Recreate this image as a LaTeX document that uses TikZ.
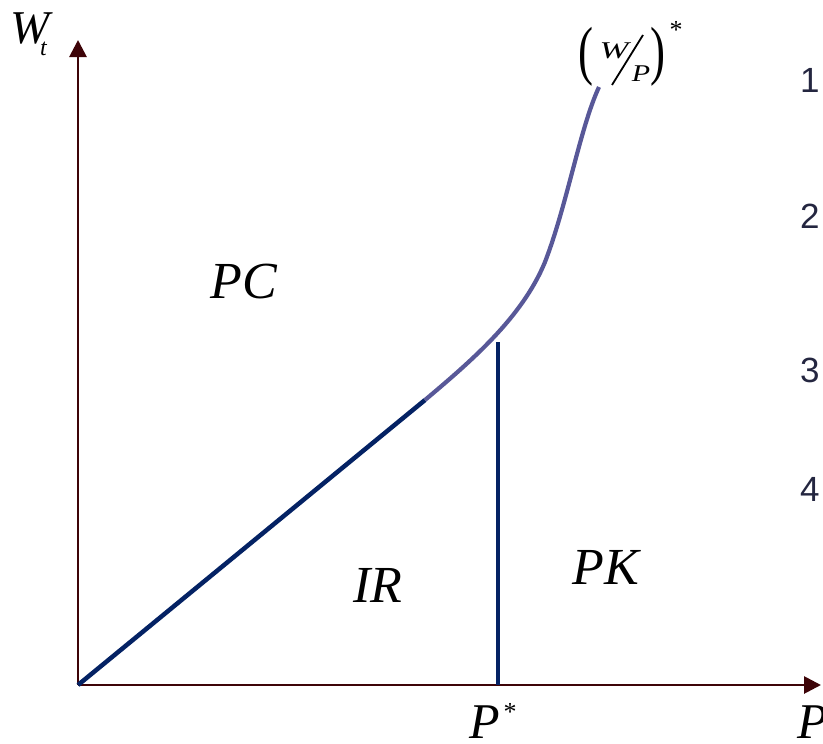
\documentclass[tikz,border=0pt]{standalone}
\usepackage{fontspec}
\setmainfont{Liberation Serif}
\newfontfamily\numfont{Liberation Sans}
\usetikzlibrary{arrows.meta}
\definecolor{axiscol}{RGB}{62,4,8}
\definecolor{navyline}{RGB}{4,34,100}
\definecolor{curvecol}{RGB}{88,88,152}
\definecolor{numcol}{RGB}{36,38,64}
\begin{document}
\begin{tikzpicture}[x=1pt,y=-1pt,
  every node/.style={inner sep=0pt,outer sep=0pt},
  axis/.style={draw=axiscol,line width=2.8pt,-{Triangle[length=17pt,width=17pt]}},
  navy/.style={draw=navyline,line width=4.5pt},
  wpcurve/.style={draw=curvecol,line width=4.2pt},
  region/.style={font=\fontsize{52}{52}\selectfont\itshape},
  axlbl/.style={font=\fontsize{50}{50}\selectfont\itshape,anchor=base west},
  paren/.style={font=\fontsize{45}{45}\selectfont},
  frac/.style={font=\fontsize{24}{24}\selectfont\itshape},
  num/.style={font=\fontsize{35}{35}\selectfont\numfont,text=numcol,anchor=west}]
\useasboundingbox (0,0) rectangle (823,744);
\coordinate (O) at (78,685);
\coordinate (ytop) at (78,40);
\coordinate (xend) at (821,685);
\coordinate (kink) at (425,400);
\coordinate (pstar) at (498,685);
\coordinate (ptop) at (498,342);
\coordinate (cmid) at (545,262);
\coordinate (cend) at (599,87);
\draw[axis] (O) -- (ytop);
\draw[axis] (O) -- (xend);
\draw[navy] (O) -- (kink);
\draw[wpcurve] (kink) .. controls (470,362) and (522,318) .. (cmid)
  .. controls (567,205) and (580,128) .. (cend);
\draw[navy] (pstar) -- (ptop);
\node[axlbl,font=\fontsize{47}{47}\selectfont\itshape] (wt) at (10,43)
  {W\kern-9pt\raisebox{-12pt}{\fontsize{24}{24}\selectfont t}};
\node[axlbl] (pt) at (797,738)
  {P\kern-5pt\raisebox{-12pt}{\fontsize{26}{26}\selectfont t}};
\node[axlbl] (pst) at (469,738)
  {P\kern4pt\raisebox{18pt}{\fontsize{26}{26}\selectfont\upshape*}};
\node[region] (pc) at (244,282) {PC};
\node[region] (ir) at (378,585) {IR};
\node[region] (pk) at (606,567) {PK};
\node[paren] (wpl) at (586,57) {\scalebox{1}[1.45]{(}};
\node[frac] (wpw) at (614,51) {\scalebox{1.45}[1]{W}};
\node[frac] (wpp) at (641,74) {\scalebox{1.25}[1]{P}};
\node[paren] (wpr) at (658,57) {\scalebox{1}[1.45]{)}};
\node[font=\fontsize{26}{26}\selectfont] (wps) at (676,30) {*};
\draw[line width=1.8pt] (612,85) -- (643,35);
\node[num] (n1) at (800,80) {1};
\node[num] (n2) at (800,216) {2};
\node[num] (n3) at (800,370) {3};
\node[num] (n4) at (800,489) {4};
\end{tikzpicture}
\end{document}
